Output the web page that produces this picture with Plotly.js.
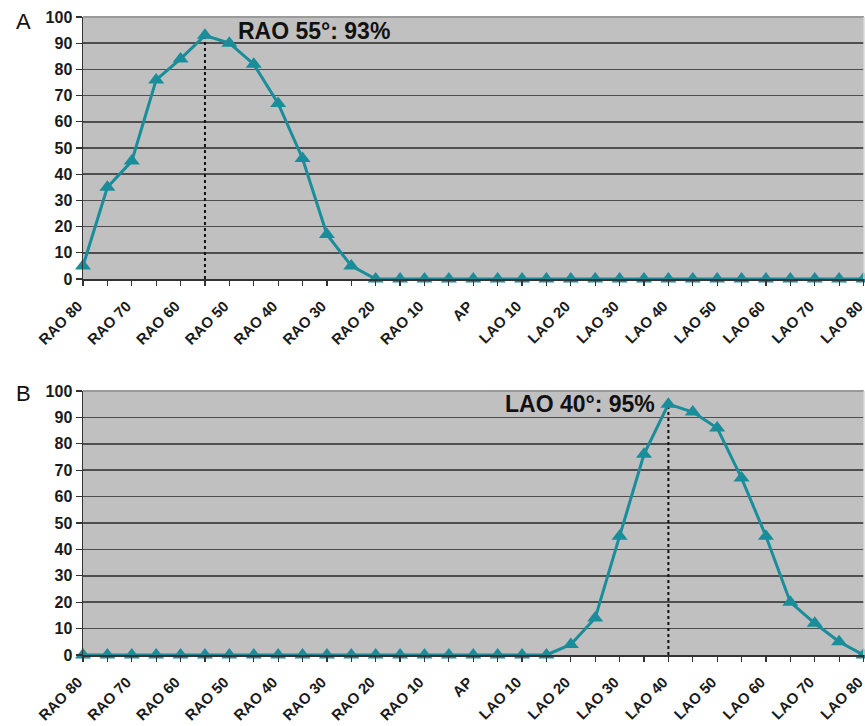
<!DOCTYPE html>
<html>
<head>
<meta charset="utf-8">
<script src="https://cdn.plot.ly/plotly-3.0.1.min.js"></script>
<style>
  html, body { margin: 0; padding: 0; background: #ffffff; }
  #chart { width: 865px; height: 726px; }
</style>
</head>
<body>
<div id="chart"></div>
<script>
// Projection angles (every 5 degrees)
const angles = [
  'RAO 80','RAO 75','RAO 70','RAO 65','RAO 60','RAO 55','RAO 50','RAO 45',
  'RAO 40','RAO 35','RAO 30','RAO 25','RAO 20','RAO 15','RAO 10','RAO 5',
  'AP',
  'LAO 5','LAO 10','LAO 15','LAO 20','LAO 25','LAO 30','LAO 35','LAO 40',
  'LAO 45','LAO 50','LAO 55','LAO 60','LAO 65','LAO 70','LAO 75','LAO 80'
];
// Tick labels shown on the axis (every 10 degrees)
const tickLabels = [
  'RAO 80','','RAO 70','','RAO 60','','RAO 50','',
  'RAO 40','','RAO 30','','RAO 20','','RAO 10','',
  'AP',
  '','LAO 10','','LAO 20','','LAO 30','','LAO 40',
  '','LAO 50','','LAO 60','','LAO 70','','LAO 80'
];
// Panel A values (%)
const valuesA = [5,35,45,76,84,93,90,82,67,46,17,5,0,0,0,0,0,0,0,0,0,0,0,0,0,0,0,0,0,0,0,0,0];
// Panel B values (%)
const valuesB = [0,0,0,0,0,0,0,0,0,0,0,0,0,0,0,0,0,0,0,0,4,14,45,76,95,92,86,67,45,20,12,5,0];
const yTicks = [0,10,20,30,40,50,60,70,80,90,100];
const panelLabels = ['A','B'];
const peakLabels = ['RAO 55°', 'LAO 40°'];

const teal = '#1a8d9b';
const fontFam = 'Liberation Sans, Arial, sans-serif';

function peakIndex(arr) {
  let m = 0;
  for (let i = 1; i < arr.length; i++) if (arr[i] > arr[m]) m = i;
  return m;
}
const pA = peakIndex(valuesA);
const pB = peakIndex(valuesB);

const lineTrace = (vals, xa, ya) => ({
  x: angles, y: vals, xaxis: xa, yaxis: ya,
  type: 'scatter', mode: 'lines+markers',
  line: {color: teal, width: 3},
  marker: {symbol: 'triangle-up', size: 14, color: teal},
  cliponaxis: false, hoverinfo: 'skip', showlegend: false
});
const dropTrace = (vals, p, xa, ya) => ({
  x: [angles[p], angles[p]], y: [0, vals[p]], xaxis: xa, yaxis: ya,
  type: 'scatter', mode: 'lines',
  line: {color: '#111111', width: 2, dash: 'dot'},
  hoverinfo: 'skip', showlegend: false
});

const data = [
  dropTrace(valuesA, pA, 'x', 'y'),
  lineTrace(valuesA, 'x', 'y'),
  dropTrace(valuesB, pB, 'x2', 'y2'),
  lineTrace(valuesB, 'x2', 'y2')
];

const xCommon = {
  type: 'category',
  categoryorder: 'array', categoryarray: angles,
  tickmode: 'array', tickvals: angles, ticktext: tickLabels,
  tickangle: -45,
  tickfont: {family: fontFam, size: 15, color: '#1a1a1a', weight: 'bold'},
  ticks: 'outside', ticklen: 5, tickcolor: '#333', tickwidth: 1.2,
  ticklabelstandoff: 6, ticklabelshift: -5,
  range: [0, 32.02],
  showgrid: false, zeroline: false,
  showline: true, linecolor: '#333', linewidth: 1.5,
  fixedrange: true
};
const yCommon = {
  range: [0, 100],
  tickmode: 'array', tickvals: yTicks,
  tickfont: {family: fontFam, size: 16, color: '#1a1a1a', weight: 'bold'},
  ticks: 'outside', ticklen: 6, tickcolor: '#333', tickwidth: 1.2,
  showgrid: true, gridcolor: '#4e4e4e', gridwidth: 1.6,
  zeroline: false,
  showline: true, linecolor: '#333', linewidth: 1.5,
  fixedrange: true
};

const layout = {
  width: 865, height: 726,
  margin: {l: 83, r: 1, t: 17, b: 71},
  paper_bgcolor: '#ffffff',
  plot_bgcolor: '#c0c0c0',
  font: {family: fontFam},
  xaxis: Object.assign({}, xCommon, {anchor: 'y', domain: [0, 1]}),
  yaxis: Object.assign({}, yCommon, {anchor: 'x', domain: [0.5893, 1]}),
  xaxis2: Object.assign({}, xCommon, {anchor: 'y2', domain: [0, 1]}),
  yaxis2: Object.assign({}, yCommon, {anchor: 'x2', domain: [0, 0.4138]}),
  shapes: [
    {type: 'line', xref: 'x domain', yref: 'y domain', x0: 0, x1: 1, y0: 1, y1: 1, line: {color: '#9a9a9a', width: 2}},
    {type: 'line', xref: 'x domain', yref: 'y domain', x0: 1, x1: 1, y0: 0, y1: 1, line: {color: '#d8d8d8', width: 1.5}},
    {type: 'line', xref: 'x2 domain', yref: 'y2 domain', x0: 0, x1: 1, y0: 1, y1: 1, line: {color: '#9a9a9a', width: 2}},
    {type: 'line', xref: 'x2 domain', yref: 'y2 domain', x0: 1, x1: 1, y0: 0, y1: 1, line: {color: '#d8d8d8', width: 1.5}}
  ],
  annotations: [
    {xref: 'paper', yref: 'y', x: 0.196, y: 94.5, xanchor: 'left', yanchor: 'middle',
     text: peakLabels[0] + ': ' + valuesA[pA] + '%', showarrow: false,
     font: {family: fontFam, size: 23, color: '#111', weight: 'bold'}},
    {xref: 'paper', yref: 'y2', x: 0.7346, y: 95, xanchor: 'right', yanchor: 'middle',
     text: peakLabels[1] + ': ' + valuesB[pB] + '%', showarrow: false,
     font: {family: fontFam, size: 23, color: '#111', weight: 'bold'}},
    {xref: 'paper', yref: 'paper', x: -0.088, y: 0.993, xanchor: 'left', yanchor: 'middle',
     text: panelLabels[0], showarrow: false,
     font: {family: fontFam, size: 22, color: '#111'}},
    {xref: 'paper', yref: 'paper', x: -0.088, y: 0.4106, xanchor: 'left', yanchor: 'middle',
     text: panelLabels[1], showarrow: false,
     font: {family: fontFam, size: 22, color: '#111'}}
  ]
};

Plotly.newPlot('chart', data, layout, {displayModeBar: false, staticPlot: true});
</script>
</body>
</html>
